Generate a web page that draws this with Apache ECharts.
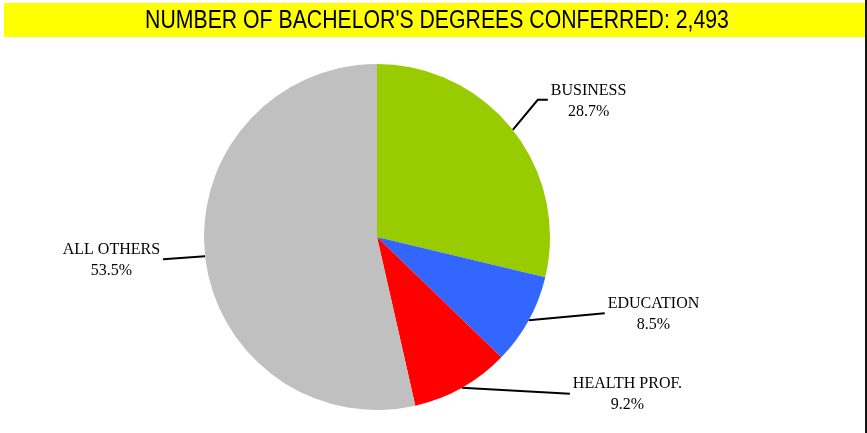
<!DOCTYPE html>
<html>
<head>
<meta charset="utf-8">
<script src="https://cdn.jsdelivr.net/npm/echarts@6/dist/echarts.min.js"></script>
<style>
  html, body { margin: 0; padding: 0; background: #fff; }
  #chart { width: 867px; height: 433px; }
</style>
</head>
<body>
<div id="chart"></div>
<script>
// degrees by field
const categories = ["BUSINESS", "EDUCATION", "HEALTH PROF.", "ALL OTHERS"];
const shares = [28.7, 8.5, 9.2, 53.5];
const totalDegrees = 2493;

const sliceColors = ["#99cc00", "#3366ff", "#ff0000", "#c0c0c0"];
// leader line bends, relative to where the line leaves the pie
const leaderOffsets = [
  [[25, -30], [35, -30]],
  [[76, -7]],
  [[108, 6]],
  [[-42, 3]],
];

let chart = echarts.init(document.getElementById("chart"));

let option = {
  animation: false,
  graphic: [
    { type: "rect", z: 0, shape: { x: 4, y: 3, width: 861, height: 34 }, style: { fill: "#ffff00" } },
    { type: "rect", z: 0, shape: { x: 865, y: 0, width: 2, height: 433 }, style: { fill: "#111" } },
    {
      // narrow title, like the original condensed face
      type: "text",
      z: 10,
      x: 437,
      y: 21,
      scaleX: 0.85,
      style: {
        text: "NUMBER OF BACHELOR'S DEGREES CONFERRED: " + totalDegrees.toLocaleString("en-US"),
        x: 0,
        y: 0,
        align: "center",
        verticalAlign: "middle",
        font: "25px 'Liberation Sans'",
        fill: "#000",
      },
    },
  ],
  series: [
    {
      type: "pie",
      center: [377, 237],
      radius: 173,
      startAngle: 90,
      clockwise: true,
      silent: true,
      data: categories.map((name, i) => ({
        name: name,
        value: shares[i],
        itemStyle: { color: sliceColors[i] },
      })),
      label: {
        show: true,
        formatter: (p) => p.name + "\n" + p.value.toFixed(1) + "%",
        fontFamily: "Liberation Serif",
        fontSize: 16,
        lineHeight: 21,
        color: "#000",
      },
      labelLine: {
        show: true,
        length: 10,
        length2: 10,
        lineStyle: { color: "#000", width: 2 },
      },
      labelLayout: function (p) {
        let s = p.labelLinePoints[0];
        let pts = [s];
        leaderOffsets[p.dataIndex].forEach((o) => pts.push([s[0] + o[0], s[1] + o[1]]));
        let end = pts[pts.length - 1];
        let dir = end[0] >= s[0] ? 1 : -1;
        return {
          x: end[0] + dir * (3 + p.labelRect.width / 2),
          y: end[1] + 1,
          align: "center",
          verticalAlign: "middle",
          labelLinePoints: pts,
        };
      },
    },
  ],
};

chart.setOption(option);
</script>
</body>
</html>
